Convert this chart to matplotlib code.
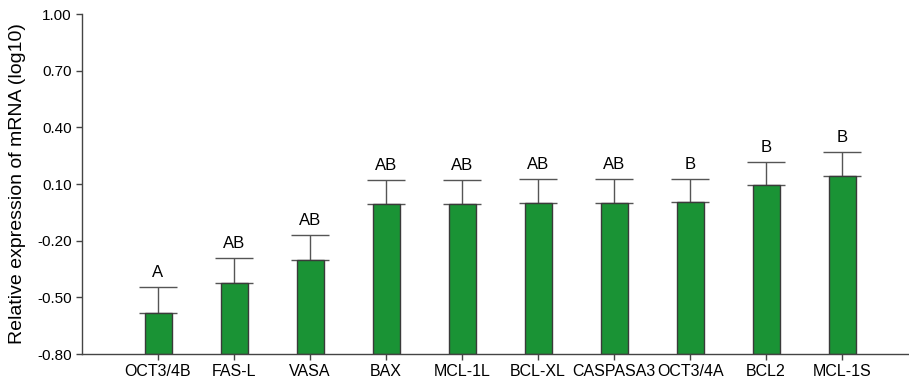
import matplotlib
matplotlib.use("Agg")
import matplotlib.pyplot as plt
import numpy as np

plt.rcParams['font.family'] = ['Liberation Sans', 'DejaVu Sans']

genes = ["OCT3/4B", "FAS-L", "VASA", "BAX", "MCL-1L", "BCL-XL",
         "CASPASA3", "OCT3/4A", "BCL2", "MCL-1S"]
means = [-0.581, -0.424, -0.301, -0.008, -0.005, -0.002, -0.002, 0.003, 0.093, 0.141]
errors = [0.134, 0.131, 0.129, 0.127, 0.126, 0.127, 0.127, 0.122, 0.122, 0.127]
groups = ["A", "AB", "AB", "AB", "AB", "AB", "AB", "B", "B", "B"]
yticks = [-0.80, -0.50, -0.20, 0.10, 0.40, 0.70, 1.00]

base = -0.80
bar_color = "#1a9335"
edge_color = "#3a3a3a"
err_color = "#555555"

fig = plt.figure(figsize=(9.09, 3.82), dpi=100)
ax = fig.add_axes([82 / 909, 28 / 382, 1 - 82 / 909, 340 / 382])

x = np.arange(1, len(genes) + 1)
heights = np.array(means) - base
ax.bar(x, heights, bottom=base, width=0.355, color=bar_color,
       edgecolor=edge_color, linewidth=1.0, zorder=2)
ax.errorbar(x, means, yerr=[np.zeros(len(errors)), errors], fmt="none",
            ecolor=err_color, elinewidth=1.0, capsize=13.5, capthick=1.0, zorder=1)

for xi, m, e, g in zip(x, means, errors, groups):
    ax.annotate(g, (xi, m + e), xytext=(0, 5), textcoords="offset points",
                ha="center", va="bottom", fontsize=12)

ax.set_xlim(0, 10.88)
ax.set_ylim(-0.80, 1.00)
ax.set_yticks(yticks)
ax.set_yticklabels([f"{v:.2f}" for v in yticks], fontsize=11)
ax.set_xticks(x)
ax.set_xticklabels(genes, fontsize=11.5)
ax.set_ylabel("Relative expression of mRNA (log10)", fontsize=14, labelpad=8)

for s in ["top", "right"]:
    ax.spines[s].set_visible(False)
for s in ["left", "bottom"]:
    ax.spines[s].set_color("#444444")
    ax.spines[s].set_linewidth(1.0)
ax.tick_params(axis="both", colors="#444444", length=4, width=1.0,
               labelcolor="black")
ax.tick_params(axis="x", pad=3)

fig.savefig("out.png", dpi=100)
